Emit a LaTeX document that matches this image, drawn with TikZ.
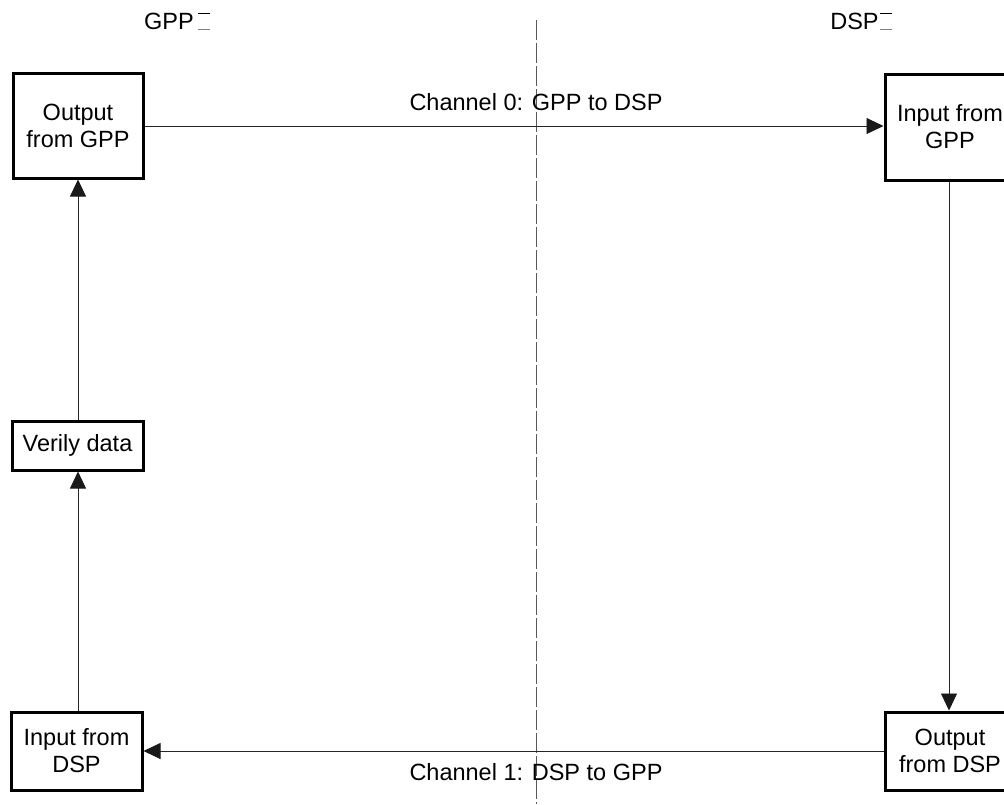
\documentclass[tikz,border=0pt]{standalone}
\usepackage{fontspec}
\setmainfont{Liberation Sans}
\usetikzlibrary{arrows.meta}
\begin{document}
\begin{tikzpicture}[x=1pt,y=-1pt,
  box/.style={draw,line width=3pt,fill=white,inner sep=0pt,align=center,font=\fontsize{23.5}{27}\selectfont},
  lbl/.style={font=\fontsize{23.5}{27}\selectfont,inner sep=0pt,anchor=base},
  conn/.style={line width=0.8pt,draw=black!85,-{Triangle[length=17pt,width=16pt,color=black!90]}}]
\useasboundingbox (0,0) rectangle (1004,804);
\draw[gray!70!black,line width=1pt,dash pattern=on 20pt off 3pt] (536,20) -- (536,804);
\node[box,minimum width=130pt,minimum height=105pt] (ogpp) at (78,125.5) {Output\\from GPP};
\node[box,minimum width=130pt,minimum height=106pt] (igpp) at (950,127) {Input from\\GPP};
\node[box,minimum width=131pt,minimum height=49pt] (ver) at (77.5,445.5) {Verily data};
\node[box,minimum width=131pt,minimum height=78pt] (idsp) at (76.5,751) {Input from\\DSP};
\node[box,minimum width=130pt,minimum height=78pt] (odsp) at (950,751) {Output\\from DSP};
\node[lbl] (gpp) at (169,29.5) {GPP};
\node[lbl] (dsp) at (854.5,29.5) {DSP};
\draw[line width=1pt] (198,13) -- (210,13);
\draw[gray,line width=1pt] (198,29) -- (210,29);
\draw[line width=1pt] (880,13) -- (892,13);
\draw[gray,line width=1pt] (880,29) -- (892,29);
\coordinate (c0) at (536,110.5);
\coordinate (c1) at (536,780.5);
\draw[conn] (ogpp.east |- 0,126) -- (igpp.west |- 0,126);
\node[lbl] (ch0) at (c0) {Channel 0: GPP to DSP};
\draw[conn] (odsp.west |- 0,751) -- (idsp.east |- 0,751);
\node[lbl] (ch1) at (c1) {Channel 1: DSP to GPP};
\draw[conn] (igpp.south -| 949,0) -- (odsp.north -| 949,0);
\draw[conn] (idsp.north -| 78,0) -- (ver.south -| 78,0);
\draw[conn] (ver.north -| 78,0) -- (ogpp.south -| 78,0);
\end{tikzpicture}
\end{document}
